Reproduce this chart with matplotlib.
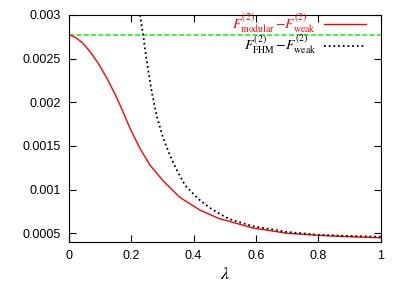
import matplotlib
matplotlib.use('Agg')
import matplotlib.pyplot as plt

plt.rcParams['font.family'] = ['Liberation Sans', 'DejaVu Sans']
plt.rcParams['mathtext.fontset'] = 'stix'

# values
lam_mod = [0.0, 0.022, 0.044, 0.071, 0.097, 0.124, 0.151, 0.177, 0.196, 0.228,
           0.26, 0.302, 0.356, 0.42, 0.48, 0.59, 0.698, 0.804, 0.9, 1.0]
f_mod = [0.002775, 0.00274, 0.00268, 0.002565, 0.00243, 0.00226, 0.00207, 0.00186,
         0.00170, 0.00147, 0.00128, 0.00110, 0.00091, 0.000765, 0.00067, 0.00056,
         0.0005, 0.000475, 0.00046, 0.000448]

lam_fhm = [0.228, 0.238, 0.244, 0.254, 0.265, 0.281, 0.302, 0.324, 0.345, 0.372,
           0.414, 0.452, 0.484, 0.516, 0.59, 0.698, 0.804, 0.9, 1.0]
f_fhm = [0.003, 0.00277, 0.00261, 0.00237, 0.00213, 0.00185, 0.00159, 0.00139,
         0.00123, 0.00105, 0.000895, 0.00079, 0.00072, 0.00066, 0.00058, 0.000515,
         0.00048, 0.000468, 0.00046]

f_weak_ref = 0.002775

fig = plt.figure(figsize=(4.03, 2.82), dpi=100)
ax = fig.add_axes([0.171, 0.142, 0.774, 0.805])

ax.axhline(f_weak_ref, color='#11ee11', lw=1.1, ls=(0, (3.3, 1.5)))
ax.plot(lam_mod, f_mod, color='red', lw=1.0,
        label=r'$F^{(2)}_{\rm modular}\,{-}F^{(2)}_{\rm weak}$')
ax.plot(lam_fhm, f_fhm, color='black', lw=1.3, ls=(0, (1, 1.6)),
        label=r'$F^{(2)}_{\rm FHM}\,{-}F^{(2)}_{\rm weak}$')

ax.set_xlim(0, 1)
ax.set_ylim(0.0004, 0.003)
ax.set_xticks([0, 0.2, 0.4, 0.6, 0.8, 1])
ax.set_xticklabels(['0', '0.2', '0.4', '0.6', '0.8', '1'])
ax.set_yticks([0.0005, 0.001, 0.0015, 0.002, 0.0025, 0.003])
ax.set_yticklabels(['0.0005', '0.001', '0.0015', '0.002', '0.0025', '0.003'])
ax.tick_params(direction='in', top=True, right=True, length=5, labelsize=9, pad=6)
ax.set_xlabel(r'$\lambda$', fontsize=13, labelpad=3)

leg = ax.legend(loc='upper right', frameon=False, markerfirst=False,
                labelcolor=['red', 'black'], fontsize=10, handlelength=3.0,
                borderaxespad=0.1, labelspacing=-0.15, handletextpad=0.6,
                bbox_to_anchor=(0.975, 1.045))

fig.savefig('out.png', dpi=100)
